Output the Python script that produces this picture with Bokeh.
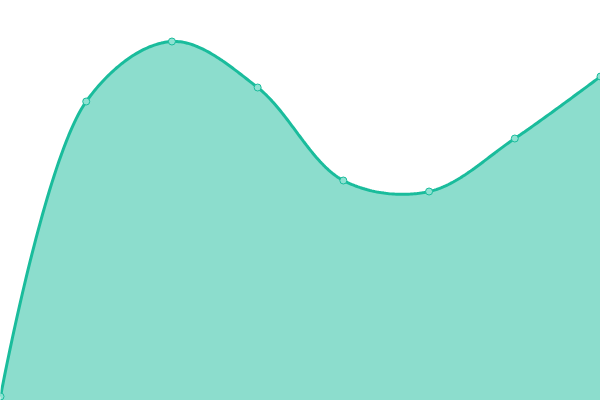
import numpy as np
from bokeh.plotting import figure
from bokeh.models import Range1d
from bokeh.embed import file_html
from bokeh.resources import INLINE

# data
categories = [0, 1, 2, 3, 4, 5, 6, 7]
values = [1, 74.75, 89.75, 78.25, 55, 52.25, 65.5, 81]

LINE = "#1abc9c"
W, H = 600, 400
X0, X1, Y0, Y1 = 0, 7, 0, 100


def catmull_rom_centripetal(xs, ys, kx, ky, alpha=0.5, n=50):
    """Centripetal Catmull-Rom (as d3.curveCatmullRom) computed in screen-scaled
    units, returned back in data units."""
    P = np.column_stack([np.asarray(xs, float) * kx, np.asarray(ys, float) * ky])
    m = len(P)
    outx, outy = [], []
    for i in range(m - 1):
        p1, p2 = P[i], P[i + 1]
        l12 = np.linalg.norm(p2 - p1)
        l12a, l12_2a = l12 ** alpha, l12 ** (2 * alpha)
        c1 = p1.copy()
        if i > 0:
            p0 = P[i - 1]
            l01 = np.linalg.norm(p1 - p0)
            l01a, l01_2a = l01 ** alpha, l01 ** (2 * alpha)
            a = 2 * l01_2a + 3 * l01a * l12a + l12_2a
            nn = 3 * l01a * (l01a + l12a)
            c1 = (p1 * a - p0 * l12_2a + p2 * l01_2a) / nn
        c2 = p2.copy()
        if i < m - 2:
            p3 = P[i + 2]
            l23 = np.linalg.norm(p3 - p2)
            l23a, l23_2a = l23 ** alpha, l23 ** (2 * alpha)
            b = 2 * l23_2a + 3 * l23a * l12a + l12_2a
            mm = 3 * l23a * (l23a + l12a)
            c2 = (p2 * b + p1 * l23_2a - p3 * l12_2a) / mm
        t = np.linspace(0, 1, n, endpoint=(i == m - 2))[:, None]
        pts = ((1 - t) ** 3) * p1 + 3 * ((1 - t) ** 2) * t * c1 + 3 * (1 - t) * t ** 2 * c2 + t ** 3 * p2
        outx.extend(pts[:, 0] / kx)
        outy.extend(pts[:, 1] / ky)
    return np.array(outx), np.array(outy)


kx = W / (X1 - X0)
ky = H / (Y1 - Y0)
sx, sy = catmull_rom_centripetal(categories, values, kx, ky)

p = figure(width=W, height=H, output_backend="svg", toolbar_location=None,
           x_range=Range1d(X0, X1), y_range=Range1d(Y0, Y1),
           min_border=0, outline_line_color=None)
p.axis.visible = False
p.grid.visible = False
p.background_fill_color = "white"
p.border_fill_color = "white"

p.varea(x=sx, y1=0, y2=sy, fill_color=LINE, fill_alpha=0.5)
p.line(sx, sy, line_color=LINE, line_width=3)
p.scatter(categories, values, marker="circle", size=7,
          fill_color="#8ee2d2", line_color=LINE, line_width=1)

open("out.html", "w").write(file_html(p, INLINE))
